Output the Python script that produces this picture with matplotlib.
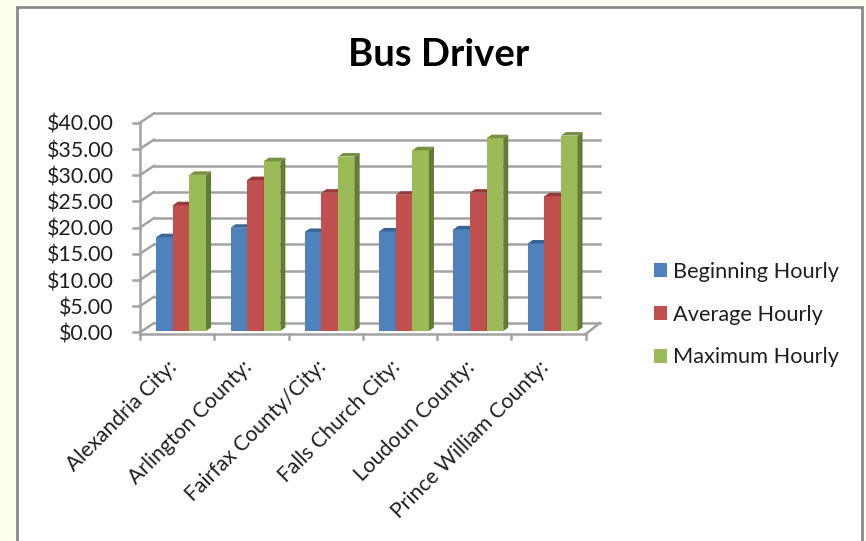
import numpy as np
import matplotlib
matplotlib.use("Agg")
import matplotlib.pyplot as plt
from matplotlib.patches import Patch, Polygon, Rectangle
from matplotlib.transforms import Affine2D

COUNTIES = ['Alexandria City:', 'Arlington County:', 'Fairfax County/City:',
            'Falls Church City:', 'Loudoun County:', 'Prince William County:']
BEGINNING = [17.9, 19.7, 18.9, 19.0, 19.4, 16.7]
AVERAGE = [24.0, 28.8, 26.4, 26.0, 26.4, 25.7]
MAXIMUM = [29.8, 32.4, 33.3, 34.5, 36.8, 37.3]
SERIES_NAMES = ['Beginning Hourly', 'Average Hourly', 'Maximum Hourly']
Y_TICKS = [0, 5, 10, 15, 20, 25, 30, 35, 40]

FRONT = ['#4F81BD', '#C0504D', '#9BBB59']
TOP = ['#386494', '#953A38', '#76913F']
SIDE = ['#2F5480', '#7E2F2D', '#647A35']
GRID = '#A3A3A3'
TEXT = '#1F1F1F'
W, H = 866, 541

plt.rcParams['font.family'] = ['Lato', 'DejaVu Sans']

fig = plt.figure(figsize=(W / 100, H / 100), dpi=100, facecolor='#FFFFF0')

# chart frame, runs off the bottom of the screenshot
fig.add_artist(Rectangle((17 / W, -0.05), 845 / W, 1.05 - 7 / H, transform=fig.transFigure,
                         facecolor='white', edgecolor='#858585', linewidth=1.9, zorder=-1))

ax = fig.add_axes([140 / W, (H - 331) / H, 445.8 / W, 209.6 / H])
ax.set_xlim(-0.5, 5.5)
ax.set_ylim(0, 40)
ax.patch.set_alpha(0)
for s in ax.spines.values():
    s.set_visible(False)

px_x = 445.8 / 6
px_y = 209.6 / 40
depth_x = 14 / px_x
depth_y = 8 / px_y
front_y = -1.3 / px_y
lw = 1.8

# back wall, side wall and floor
for v in Y_TICKS:
    ax.plot([-0.5 + depth_x, 5.5 + depth_x], [v + depth_y, v + depth_y], color=GRID, lw=lw, clip_on=False, zorder=1)
    ax.plot([-0.5, -0.5 + depth_x], [v + front_y, v + depth_y], color=GRID, lw=lw, clip_on=False, zorder=1)
    ax.plot([-0.5 - 7 / px_x, -0.5], [v + front_y, v + front_y], color=GRID, lw=lw, clip_on=False, zorder=1)
ax.plot([-0.5, -0.5], [-3 / px_y, 40 + front_y], color=GRID, lw=lw, clip_on=False, zorder=1)
ax.plot([-0.5, 5.5], [-3 / px_y, -3 / px_y], color=GRID, lw=lw, clip_on=False, zorder=1)
ax.plot([5.5, 5.5 + depth_x], [-3 / px_y, depth_y], color=GRID, lw=lw, clip_on=False, zorder=1)
for b in np.arange(-0.5, 6):
    ax.plot([b, b], [-3 / px_y, -8 / px_y], color=GRID, lw=lw, clip_on=False, zorder=1)

# bars with their top and side faces
bar_w = 16.6 / px_x
bar_dx = 5 / px_x
bar_dy = 3.5 / px_y
shift = 4 / px_x
for k, vals in enumerate([BEGINNING, AVERAGE, MAXIMUM]):
    xs = np.arange(6) + shift + (k - 1) * bar_w
    z = 3 + k
    ax.bar(xs, vals, width=bar_w, color=FRONT[k], zorder=z)
    for x, v in zip(xs, vals):
        l, r = x - bar_w / 2, x + bar_w / 2
        ax.add_patch(Polygon([(l, v), (l + bar_dx, v + bar_dy), (r + bar_dx, v + bar_dy), (r, v)],
                             facecolor=TOP[k], edgecolor='none', zorder=z, clip_on=False))
        ax.add_patch(Polygon([(r, 0), (r + bar_dx, bar_dy), (r + bar_dx, v + bar_dy), (r, v)],
                             facecolor=SIDE[k], edgecolor='none', zorder=z, clip_on=False))

ax.set_yticks(Y_TICKS, [f"${v:.2f}" for v in Y_TICKS], fontsize=15.4, color=TEXT)
ax.tick_params(axis='y', length=0, pad=19)
for t in ax.get_yticklabels():
    t.set_transform(t.get_transform() + Affine2D().translate(0, -1.5))
ax.set_xticks(np.arange(6), COUNTIES, rotation=45, ha='right', rotation_mode='anchor',
              fontsize=15.2, color=TEXT)
ax.tick_params(axis='x', length=0, pad=18)
for t in ax.get_xticklabels():
    t.set_transform(t.get_transform() + Affine2D().translate(-10, -1))

fig.text(439 / W, (H - 55) / H, 'Bus Driver', ha='center', va='center',
         fontsize=27.5, fontweight='bold', color='black')

handles = [Patch(facecolor=c, edgecolor='none') for c in FRONT]
fig.legend(handles, SERIES_NAMES, loc='upper left', bbox_to_anchor=(634 / W, (H - 242) / H),
           frameon=False, fontsize=15.7, labelcolor=TEXT, handlelength=0.6, handleheight=0.6,
           handletextpad=0.3, labelspacing=1.05)

fig.savefig('out.png', dpi=100, facecolor=fig.get_facecolor())
